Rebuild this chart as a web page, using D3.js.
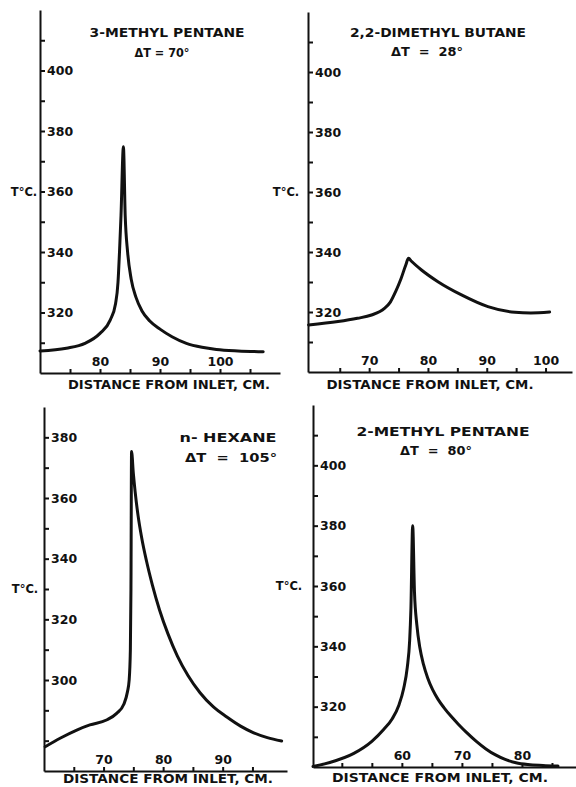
<!DOCTYPE html>
<html>
<head>
<meta charset="utf-8">
<script src="https://cdn.jsdelivr.net/npm/d3@7"></script>
<style>
  body { margin: 0; background: #fff; }
  svg { display: block; }
  text { font-family: "DejaVu Sans", sans-serif; font-weight: bold; fill: #111; }
  .axis path, .axis line { stroke: #111; stroke-width: 2; }
  .axis text { font-size: 12.5px; }
</style>
</head>
<body>
<div id="chart"></div>
<script>
// 3-methyl pentane
let p1Dist = [70, 74.4, 77.5, 80, 81.7, 82.6, 83.0, 83.25, 83.5, 83.9, 84.2, 84.6, 85.2, 86.0, 87.0, 88.3, 90, 92, 94.4, 97, 99.4, 103, 107.2]
let p1Temp = [307.3, 308.2, 309.8, 313.1, 317.5, 323, 330, 340, 352, 374.8, 352, 340, 331, 325, 320.5, 317.2, 314.5, 312, 309.8, 308.5, 307.8, 307.3, 307]
// 2,2-dimethyl butane
let p2Dist = [59.7, 64.7, 68, 70.4, 72.6, 73.6, 74.5, 75.4, 76.2, 76.7, 77.2, 78.9, 81.7, 85.7, 90.2, 94.8, 97.5, 100.7]
let p2Temp = [315.7, 316.8, 317.9, 319, 321.2, 323.3, 326.8, 331, 335.5, 337.9, 336.9, 334, 330.1, 325.7, 321.8, 319.9, 319.7, 320]
// n-hexane
let p3Dist = [60.2, 62.7, 65.5, 67.7, 70.5, 72.2, 73.4, 74.0, 74.3, 74.5, 74.6, 74.7, 75.0, 75.3, 75.8, 76.4, 77.2, 78.2, 79.4, 80.8, 82.4, 84.2, 86.2, 88.4, 90.7, 93, 95.2, 97.5, 99.9]
let p3Temp = [278, 280.8, 283.5, 285.2, 286.8, 289, 292, 296, 300, 310, 330, 375.3, 368.1, 362.1, 354.1, 346.9, 339.3, 331.3, 323.1, 315.3, 307.9, 301.4, 295.8, 291.2, 287.8, 284.8, 282.6, 281, 279.9]
// 2-methyl pentane
let p4Dist = [45.2, 48, 52, 55, 57, 58.4, 59.5, 60.3, 60.9, 61.3, 61.5, 61.8, 62.1, 62.5, 63.0, 63.6, 64.3, 65.1, 66.0, 67.0, 68.2, 69.4, 70.8, 72.4, 74.0, 75.6, 77.2, 79, 81, 83.5, 86]
let p4Temp = [300.2, 301.5, 304.5, 308.5, 312.5, 316, 320.5, 326, 333, 342, 352, 380, 358, 347, 339.5, 334, 329.5, 325.7, 322.5, 319.7, 316.8, 314.2, 311.4, 308.5, 306, 304, 302.5, 301.4, 300.8, 300.5, 300.3]

let p1XLabels = [80, 90, 100], p1XTicks = [75, 80, 85, 90, 95, 100, 105]
let p2XLabels = [70, 80, 90, 100], p2XTicks = [65, 70, 75, 80, 85, 90, 95, 100]
let p3XLabels = [70, 80, 90], p3XTicks = [65, 70, 75, 80, 85, 90, 95]
let p4XLabels = [60, 70, 80], p4XTicks = [50, 55, 60, 65, 70, 75, 80, 85]
let p1YLabels = [320, 340, 360, 380, 400], p1YTicks = [310, 320, 330, 340, 350, 360, 370, 380, 390, 400, 410]
let p2YLabels = [320, 340, 360, 380, 400], p2YTicks = [310, 320, 330, 340, 350, 360, 370, 380, 390, 400, 410]
let p3YLabels = [300, 320, 340, 360, 380], p3YTicks = [280, 290, 300, 310, 320, 330, 340, 350, 360, 370, 380]
let p4YLabels = [320, 340, 360, 380, 400], p4YTicks = [310, 320, 330, 340, 350, 360, 370, 380, 390, 400, 410]

let titles = [['3-METHYL PENTANE', 'ΔT = 70°'], ['2,2-DIMETHYL BUTANE', 'ΔT\u2007=\u200728°'],
              ['n- HEXANE', 'ΔT\u2007=\u2007105°'], ['2-METHYL PENTANE', 'ΔT\u2007=\u200780°']]

let w = 576, h = 787
let svg = d3.select('#chart').append('svg').attr('width', w).attr('height', h)

let panels = [
  {dist: p1Dist, temp: p1Temp, xl: p1XLabels, xt: p1XTicks, yl: p1YLabels, yt: p1YTicks, title: titles[0],
   xd: [70, 110], xr: [40, 280], yd: [300, 420], yr: [373, 10],
   t1: [167, 33, 155], t2: [162, 53, 55], lab: [169, 385, 202], tc: [24, 360]},
  {dist: p2Dist, temp: p2Temp, xl: p2XLabels, xt: p2XTicks, yl: p2YLabels, yt: p2YTicks, title: titles[1],
   xd: [59.6, 104.5], xr: [308, 572], yd: [300, 420], yr: [372, 12],
   t1: [438, 33, 176], t2: [427, 52, 72], lab: [430, 385, 207], tc: [286, 360]},
  {dist: p3Dist, temp: p3Temp, xl: p3XLabels, xt: p3XTicks, yl: p3YLabels, yt: p3YTicks, title: titles[2],
   xd: [60, 100.8], xr: [44, 287], yd: [270, 390], yr: [771, 407],
   t1: [228, 438, 97], t2: [231, 458, 92], lab: [168, 779, 210], tc: [25, 330]},
  {dist: p4Dist, temp: p4Temp, xl: p4XLabels, xt: p4XTicks, yl: p4YLabels, yt: p4YTicks, title: titles[3],
   xd: [45.2, 89], xr: [313, 576], yd: [300, 420], yr: [767, 405],
   t1: [443, 432, 173], t2: [436, 451, 72], lab: [440, 778, 216], tc: [289, 360]}
]

panels.forEach(p => {
  let x = d3.scaleLinear().domain(p.xd).range(p.xr)
  let y = d3.scaleLinear().domain(p.yd).range(p.yr)
  let g = svg.append('g')

  let xAxis = d3.axisTop(x).tickValues(p.xt).tickSize(4).tickSizeOuter(0).tickPadding(3)
    .tickFormat(d => p.xl.includes(d) ? d : '')
  g.append('g').attr('class', 'axis').attr('transform', 'translate(0,' + p.yr[0] + ')').call(xAxis)

  let yAxis = d3.axisRight(y).tickValues(p.yt).tickSize(5).tickSizeOuter(0).tickPadding(2)
    .tickFormat(d => p.yl.includes(d) ? d : '')
  g.append('g').attr('class', 'axis').attr('transform', 'translate(' + p.xr[0] + ',0)').call(yAxis)

  let line = d3.line().x((d, i) => x(p.dist[i])).y(d => y(d)).curve(d3.curveMonotoneX)
  g.append('path').attr('d', line(p.temp)).attr('fill', 'none').attr('stroke', '#111')
    .attr('stroke-width', 3).attr('stroke-linejoin', 'round').attr('stroke-linecap', 'round')

  g.append('text').text(p.title[0]).attr('x', p.t1[0]).attr('y', p.t1[1]).attr('dy', '0.35em')
    .attr('text-anchor', 'middle').attr('font-size', 12).attr('textLength', p.t1[2]).attr('lengthAdjust', 'spacingAndGlyphs')
  g.append('text').text(p.title[1]).attr('x', p.t2[0]).attr('y', p.t2[1]).attr('dy', '0.35em')
    .attr('text-anchor', 'middle').attr('font-size', 12).attr('textLength', p.t2[2]).attr('lengthAdjust', 'spacingAndGlyphs')
  g.append('text').text('DISTANCE FROM INLET, CM.').attr('x', p.lab[0]).attr('y', p.lab[1]).attr('dy', '0.35em')
    .attr('text-anchor', 'middle').attr('font-size', 11.5).attr('textLength', p.lab[2]).attr('lengthAdjust', 'spacingAndGlyphs')
  g.append('text').text('T°C.').attr('x', p.tc[0]).attr('y', y(p.tc[1])).attr('dy', '0.35em')
    .attr('text-anchor', 'middle').attr('font-size', 11.5)
})
</script>
</body>
</html>
